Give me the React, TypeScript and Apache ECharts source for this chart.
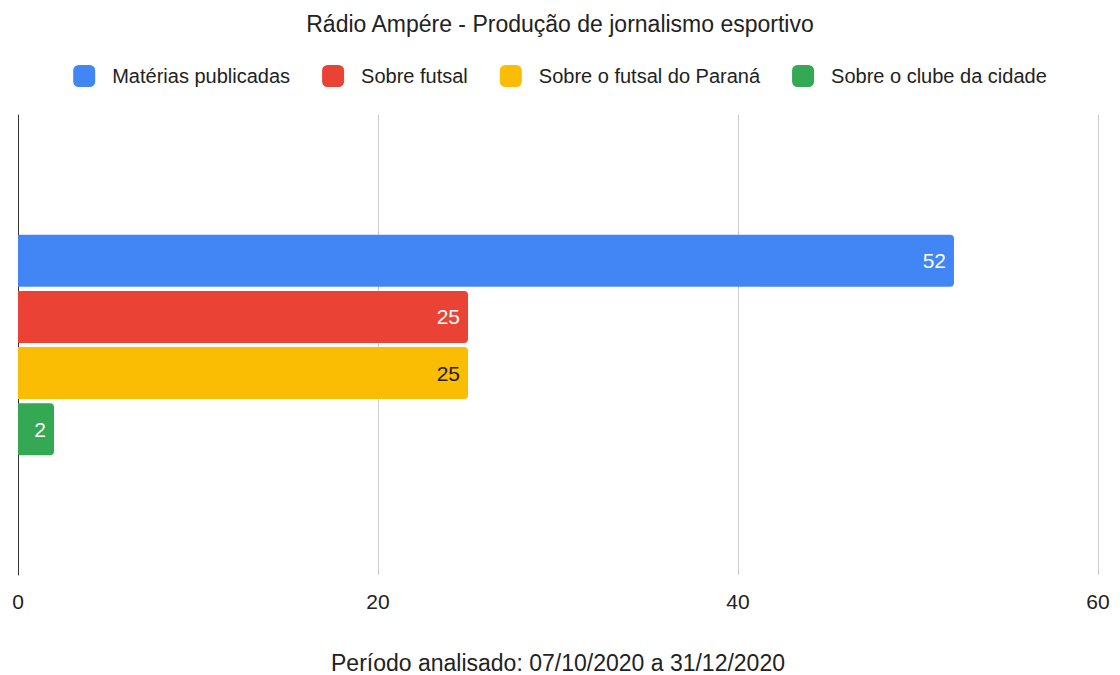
import React, { useEffect, useRef } from "react";
import * as echarts from "echarts";

const categories = [""];
const seriesNames = ["Matérias publicadas", "Sobre futsal", "Sobre o futsal do Paraná", "Sobre o clube da cidade"];
const seriesValues = [52, 25, 25, 2];
const seriesColors = ["#4285F4", "#EA4335", "#FBBC04", "#34A853"];
const labelColors = ["#ffffff", "#ffffff", "#222222", "#ffffff"];
const xTicks = { min: 0, max: 60, interval: 20 };

export default function App() {
  const ref = useRef<HTMLDivElement>(null);
  useEffect(() => {
    if (!ref.current) return;
    const chart = echarts.init(ref.current, null, { renderer: "svg" });
    const font = "'Liberation Sans', Arial, sans-serif";
    chart.setOption({
      animation: false,
      backgroundColor: "#ffffff",
      title: {
        text: "Rádio Ampére - Produção de jornalismo esportivo",
        left: "center",
        top: 7,
        textStyle: { fontFamily: font, fontSize: 23, fontWeight: "normal", color: "#222" },
      },
      legend: {
        top: 60,
        left: "center",
        itemWidth: 22,
        itemHeight: 22,
        itemGap: 32,
        icon: "roundRect",
        textStyle: { fontFamily: font, fontSize: 20, color: "#222", padding: [0, 0, 0, 12] },
        data: seriesNames,
      },
      grid: { left: 18, right: 22, top: 115, bottom: 100, containLabel: false, outerBoundsMode: "none" },
      xAxis: {
        type: "value",
        min: xTicks.min,
        max: xTicks.max,
        interval: xTicks.interval,
        axisLine: { show: false },
        axisTick: { show: false },
        splitLine: { lineStyle: { color: "#cccccc", width: 1 } },
        axisLabel: { fontFamily: font, fontSize: 21, color: "#222", margin: 16 },
        name: "Período analisado: 07/10/2020 a 31/12/2020",
        nameLocation: "middle",
        nameGap: 76,
        nameTextStyle: { fontFamily: font, fontSize: 23, color: "#222" },
      },
      yAxis: {
        type: "category",
        data: categories,
        inverse: true,
        axisLine: { show: true, lineStyle: { color: "#333", width: 1 } },
        axisTick: { show: false },
        axisLabel: { show: false },
      },
      series: seriesNames.map((name, i) => ({
        name,
        type: "bar",
        data: [seriesValues[i]],
        barWidth: 52,
        barGap: "8%",
        itemStyle: { color: seriesColors[i], borderRadius: [0, 4, 4, 0] },
        label: {
          show: true,
          position: "insideRight",
          distance: 8,
          fontFamily: font,
          fontSize: 21,
          color: labelColors[i],
        },
      })),
    });
    return () => chart.dispose();
  }, []);
  return <div ref={ref} style={{ position: "fixed", left: 0, top: 0, width: 1120, height: 675 }} />;
}
